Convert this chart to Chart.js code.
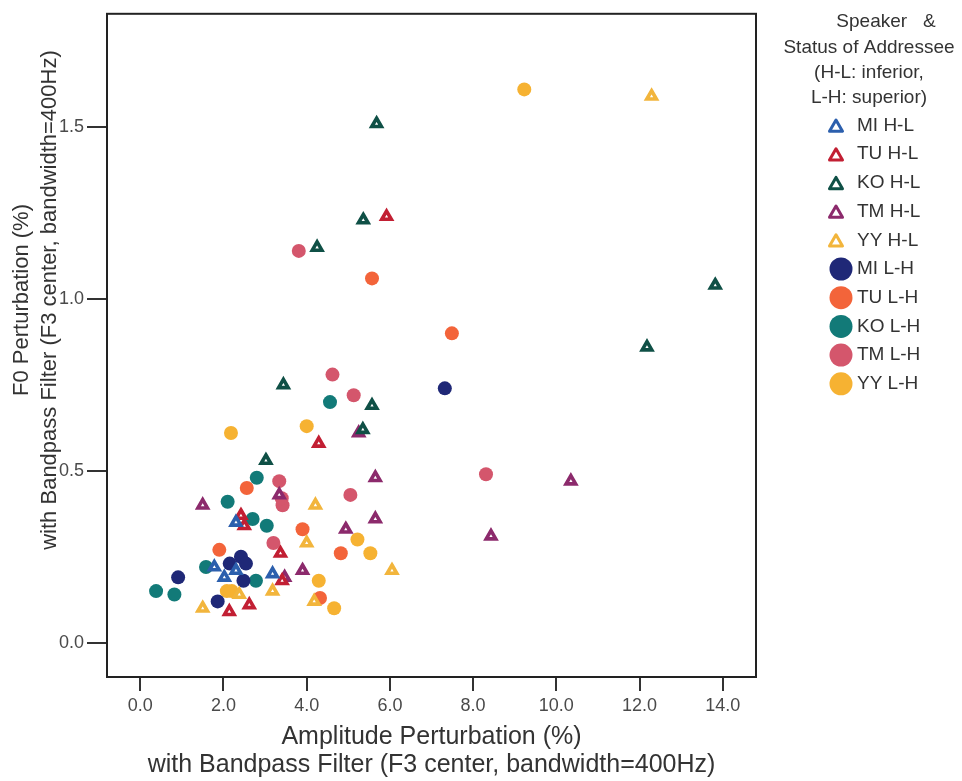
<!DOCTYPE html>
<html lang="en">
<head>
  <meta charset="UTF-8" />
  <title>F0 / Amplitude Perturbation by Speaker</title>
  <script src="https://cdn.jsdelivr.net/npm/chart.js"></script>
  <style>
    body {
      margin: 0;
      background: #fff;
    }
    #chart-box {
      width: 962px;
      height: 781px;
    }
  </style>
</head>
<body>
  <div id="chart-box">
    <canvas id="myChart" width="962" height="781"></canvas>
  </div>

  <script>
    // speaker + status of addressee
    const groups = ['MI H-L', 'TU H-L', 'KO H-L', 'TM H-L', 'YY H-L',
                    'MI L-H', 'TU L-H', 'KO L-H', 'TM L-H', 'YY L-H'];
    const groupColors = ['#2c5fad', '#c21f33', '#0f5046', '#8c2a6c', '#f2b53c',
                         '#1f2877', '#f3643a', '#127a78', '#d4566c', '#f6b232'];

    const xTicks = [0, 2, 4, 6, 8, 10, 12, 14];
    const yTicks = [0, 0.5, 1.0, 1.5];

    const xTitle = ['Amplitude Perturbation (%)', 'with Bandpass Filter (F3 center, bandwidth=400Hz)'];
    const yTitle = ['F0 Perturbation (%)', 'with Bandpass Filter (F3 center, bandwidth=400Hz)'];
    const legendTitle = ['Speaker   &', 'Status of Addressee', '(H-L: inferior,', 'L-H: superior)'];

    // [amplitude %, F0 %]
    const miHL = [[2.30, 0.35], [1.78, 0.22], [2.30, 0.21], [2.02, 0.19], [3.18, 0.20]];
    const tuHL = [[5.92, 1.24], [4.29, 0.58], [2.42, 0.37], [2.50, 0.34], [3.37, 0.26],
                  [3.41, 0.18], [2.14, 0.09], [2.62, 0.11]];
    const koHL = [[5.68, 1.51], [5.36, 1.23], [4.25, 1.15], [13.82, 1.04], [12.18, 0.86],
                  [3.44, 0.75], [5.57, 0.69], [5.35, 0.62], [3.02, 0.53]];
    const tmHL = [[10.35, 0.47], [5.25, 0.61], [5.65, 0.48], [5.65, 0.36], [4.94, 0.33],
                  [8.43, 0.31], [3.90, 0.21], [1.50, 0.40], [3.34, 0.43], [3.47, 0.19]];
    const yyHL = [[12.29, 1.59], [4.21, 0.40], [4.00, 0.29], [6.05, 0.21], [3.18, 0.15],
                  [2.38, 0.14], [1.50, 0.10], [4.18, 0.12]];
    const miLH = [[7.32, 0.74], [2.42, 0.25], [2.54, 0.23], [2.15, 0.23], [0.91, 0.19],
                  [2.48, 0.18], [1.86, 0.12]];
    const tuLH = [[5.57, 1.06], [7.49, 0.90], [2.56, 0.45], [3.90, 0.33], [1.90, 0.27],
                  [4.82, 0.26], [4.32, 0.13]];
    const koLH = [[4.56, 0.70], [2.80, 0.48], [2.10, 0.41], [2.70, 0.36], [3.04, 0.34],
                  [1.58, 0.22], [2.78, 0.18], [0.38, 0.15], [0.82, 0.14]];
    const tmLH = [[3.81, 1.14], [4.62, 0.78], [5.13, 0.72], [8.31, 0.49], [3.34, 0.47],
                  [5.05, 0.43], [3.42, 0.40], [3.40, 0.42], [3.20, 0.29]];
    const yyLH = [[9.23, 1.61], [2.18, 0.61], [4.00, 0.63], [5.22, 0.30], [5.53, 0.26],
                  [4.29, 0.18], [4.66, 0.10], [2.08, 0.15], [2.20, 0.15]];

    const seriesData = [miHL, tuHL, koHL, tmHL, yyHL, miLH, tuLH, koLH, tmLH, yyLH];

    const FONT = '"Liberation Sans", Arial, Helvetica, sans-serif';
    Chart.defaults.font.family = FONT;

    const datasets = groups.map((name, i) => {
      const isTri = name.endsWith('H-L');
      return {
        label: name,
        data: seriesData[i].map(p => ({ x: p[0], y: p[1] })),
        pointStyle: isTri ? 'triangle' : 'circle',
        pointRadius: isTri ? 5.5 : 7,
        pointBorderWidth: isTri ? 3.6 : 0,
        pointBorderColor: groupColors[i],
        pointBackgroundColor: isTri ? '#ffffff' : groupColors[i],
        showLine: false
      };
    });

    function triangle(ctx, x, y, r) {
      ctx.beginPath();
      for (let k = 0; k < 3; k++) {
        const a = k * 2 * Math.PI / 3;
        const px = x + Math.sin(a) * r, py = y - Math.cos(a) * r;
        if (k === 0) ctx.moveTo(px, py); else ctx.lineTo(px, py);
      }
      ctx.closePath();
    }

    // frame, rotated y title and the side legend
    const sideText = {
      id: 'sideText',
      afterDraw(chart) {
        const { ctx, chartArea: a } = chart;
        ctx.save();
        ctx.strokeStyle = '#222';
        ctx.lineWidth = 2;
        ctx.strokeRect(a.left, a.top, a.right - a.left, a.bottom - a.top);

        ctx.fillStyle = '#333';
        ctx.font = '22px ' + FONT;
        ctx.textAlign = 'center';
        ctx.textBaseline = 'middle';
        ctx.save();
        ctx.translate(22, 300);
        ctx.rotate(-Math.PI / 2);
        yTitle.forEach((t, i) => ctx.fillText(t, 0, i * 28));
        ctx.restore();

        ctx.font = '19px ' + FONT;
        ctx.fillText(legendTitle[0], 886, 22);
        legendTitle.slice(1).forEach((t, i) => ctx.fillText(t, 869, 47.5 + i * 25));

        ctx.textAlign = 'left';
        groups.forEach((name, i) => {
          const y = 125.5 + i * 28.7;
          if (name.endsWith('H-L')) {
            ctx.strokeStyle = groupColors[i];
            ctx.lineWidth = 3;
            ctx.lineJoin = 'round';
            triangle(ctx, 836, y + 2, 7.5);
            ctx.stroke();
          } else {
            ctx.fillStyle = groupColors[i];
            ctx.beginPath();
            ctx.arc(841, y, 11.5, 0, 2 * Math.PI);
            ctx.fill();
          }
          ctx.fillStyle = '#333';
          ctx.fillText(name, 857, y);
        });
        ctx.restore();
      }
    };

    new Chart(document.getElementById('myChart'), {
      type: 'scatter',
      data: { datasets: datasets },
      plugins: [sideText],
      options: {
        responsive: false,
        animation: false,
        layout: { padding: { top: 5, right: 206, left: 0, bottom: 0 } },
        plugins: {
          legend: { display: false },
          tooltip: { enabled: false }
        },
        scales: {
          x: {
            type: 'linear',
            min: -0.8,
            max: 14.8,
            afterFit: s => { s.height = 104; },
            afterBuildTicks: s => { s.ticks = xTicks.map(v => ({ value: v })); },
            grid: { drawOnChartArea: false, drawTicks: true, tickLength: 14, color: '#333', lineWidth: 2 },
            border: { display: true, color: '#222', width: 2 },
            ticks: {
              color: '#4a4a4a',
              font: { size: 18 },
              padding: 4,
              maxRotation: 0,
              autoSkip: false,
              callback: v => v.toFixed(1)
            },
            title: {
              display: true,
              text: xTitle,
              color: '#333',
              font: { size: 25, lineHeight: 1.12 },
              padding: { top: 0, bottom: 2 }
            }
          },
          y: {
            type: 'linear',
            min: -0.1,
            max: 1.83,
            afterFit: s => { s.width = 107; },
            afterBuildTicks: s => { s.ticks = yTicks.map(v => ({ value: v })); },
            grid: { drawOnChartArea: false, drawTicks: true, tickLength: 20, color: '#333', lineWidth: 2 },
            border: { display: true, color: '#222', width: 2 },
            ticks: {
              color: '#4a4a4a',
              font: { size: 18 },
              padding: 3,
              callback: v => v.toFixed(1)
            },
            title: { display: false }
          }
        }
      }
    });
  </script>
</body>
</html>
